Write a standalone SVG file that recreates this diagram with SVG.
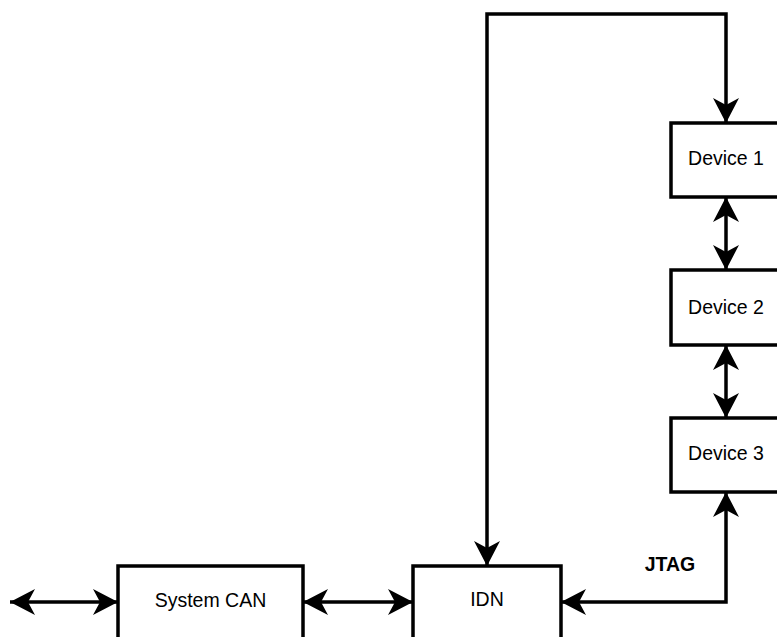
<svg xmlns="http://www.w3.org/2000/svg" width="777" height="637" viewBox="0 0 777 637">
<style>
.box{fill:#fff;stroke:#000;stroke-width:3.5}
.lbl{font-family:"Liberation Sans",Arial,sans-serif;font-size:19.5px;fill:#000;text-anchor:middle}
.edge{fill:none;stroke:#000;stroke-width:3.5}
</style>
<defs>
<marker id="ah" markerUnits="userSpaceOnUse" markerWidth="30" markerHeight="30" refX="0" refY="0" orient="auto-start-reverse" overflow="visible">
<path d="M0,0 L-25,-13 L-18,0 L-25,13 Z" fill="#000"/>
</marker>
</defs>
<rect width="777" height="637" fill="#fff"/>
<g id="connectors">
<path class="edge" d="M10,602 L118,602" marker-start="url(#ah)" marker-end="url(#ah)"/>
<path class="edge" d="M303,602 L413,602" marker-start="url(#ah)" marker-end="url(#ah)"/>
<path class="edge" d="M487,566 L487,14 L726,14 L726,123" marker-start="url(#ah)" marker-end="url(#ah)"/>
<path class="edge" d="M726,197 L726,270" marker-start="url(#ah)" marker-end="url(#ah)"/>
<path class="edge" d="M726,345 L726,418" marker-start="url(#ah)" marker-end="url(#ah)"/>
<path class="edge" d="M561,602 L726,602 L726,492" marker-start="url(#ah)" marker-end="url(#ah)"/>
<text class="lbl" x="670" y="571" font-weight="bold">JTAG</text>
</g>
<g id="system-can">
<rect class="box" x="118" y="566" width="185" height="75"/>
<text class="lbl" x="210.5" y="607">System CAN</text>
</g>
<g id="idn">
<rect class="box" x="413" y="566" width="148" height="75"/>
<text class="lbl" x="487" y="606">IDN</text>
</g>
<g id="device1">
<rect class="box" x="671" y="123" width="110" height="74"/>
<text class="lbl" x="726" y="165">Device 1</text>
</g>
<g id="device2">
<rect class="box" x="671" y="270" width="110" height="75"/>
<text class="lbl" x="726" y="314">Device 2</text>
</g>
<g id="device3">
<rect class="box" x="671" y="418" width="110" height="74"/>
<text class="lbl" x="726" y="460">Device 3</text>
</g>
</svg>
